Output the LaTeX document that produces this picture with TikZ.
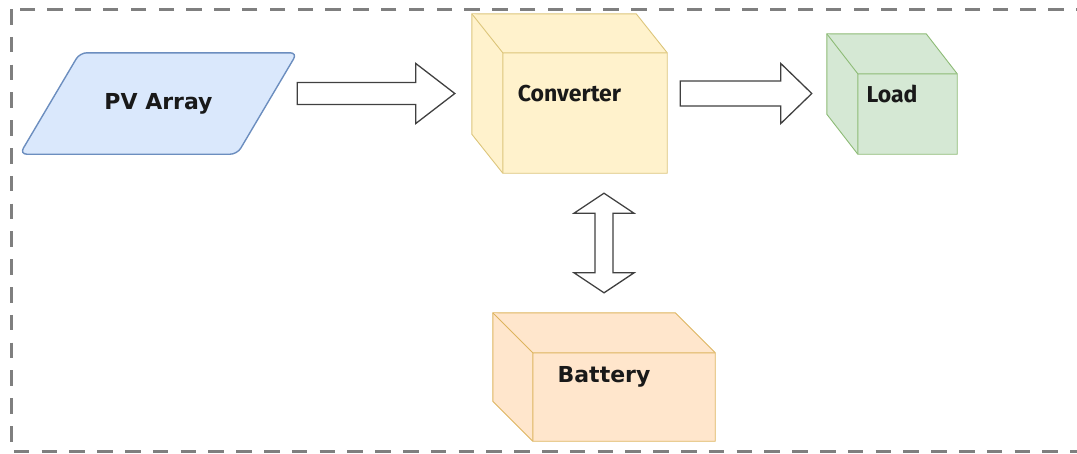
\documentclass[tikz,border=0pt]{standalone}
\usepackage{fontspec}
\setmainfont{DejaVu Sans}
\newfontfamily\narrowfont{Fira Sans}
\usepackage{xcolor}
\definecolor{pvfill}{HTML}{DAE8FC}
\definecolor{pvline}{HTML}{6C8EBF}
\definecolor{cvfill}{HTML}{FFF2CC}
\definecolor{cvline}{HTML}{DCC57A}
\definecolor{ldfill}{HTML}{D5E8D4}
\definecolor{ldline}{HTML}{8DBB76}
\definecolor{btfill}{HTML}{FFE6CC}
\definecolor{btline}{HTML}{DDB45E}
\definecolor{framegray}{HTML}{7F7F7F}
\usetikzlibrary{positioning,calc,backgrounds}

% slanted box round a node: node, slant, colour style
\newcommand{\slantbox}[3]{%
  \begin{scope}[on background layer]
    \draw[#3] ([xshift=#2pt]#1.north west) -- (#1.north east) -- ([xshift=-#2pt]#1.south east)
      -- (#1.south west) -- cycle;
  \end{scope}
}
% box drawn as a cube round a node: node, depth x, depth y, colour style
\newcommand{\cubebox}[4]{%
  \begin{scope}[on background layer]
    \draw[#4] (#1.north west) -- ([xshift=-#2pt]#1.north east) -- ([yshift=-#3pt]#1.north east)
      -- (#1.south east) -- ([xshift=#2pt]#1.south west) -- ([yshift=#3pt]#1.south west) -- cycle;
    \draw[#4] (#1.north west) -- ([xshift=#2pt,yshift=-#3pt]#1.north west) -- ([yshift=-#3pt]#1.north east)
      ([xshift=#2pt,yshift=-#3pt]#1.north west) -- ([xshift=#2pt]#1.south west);
  \end{scope}
}
% hollow block arrow: tail, tip, head length, half shaft
\newcommand{\blockarrow}[4]{%
  \draw[barrow] let \p1=(#1), \p2=(#2) in
    (\x1,\y1+#4pt) -- (\x2-#3pt,\y1+#4pt) -- (\x2-#3pt,\y1+30pt) -- (\x2,\y1)
    -- (\x2-#3pt,\y1-30pt) -- (\x2-#3pt,\y1-#4pt) -- (\x1,\y1-#4pt) -- cycle;
}
% hollow double block arrow, upper tip and lower tip
\newcommand{\dblockarrow}[2]{%
  \draw[barrow] let \p1=(#1), \p2=(#2) in
    (\x1,\y1) -- (\x1+30pt,\y1-20pt) -- (\x1+9pt,\y1-20pt) -- (\x1+9pt,\y2+20pt)
    -- (\x1+30pt,\y2+20pt) -- (\x1,\y2) -- (\x1-30pt,\y2+20pt) -- (\x1-9pt,\y2+20pt)
    -- (\x1-9pt,\y1-20pt) -- (\x1-30pt,\y1-20pt) -- cycle;
}

\begin{document}
\begin{tikzpicture}[
  x=1pt,y=-1pt,
  wide/.style={font=\fontsize{22}{26}\selectfont\bfseries,text=black!90},
  narrow/.style={font=\narrowfont\fontsize{23}{27}\selectfont\bfseries,text=black!90},
  cube/.style={rectangle,inner sep=0pt},
  pvcol/.style={draw=pvline,fill=pvfill,line width=1.4pt,rounded corners=7pt},
  cvcol/.style={draw=cvline,fill=cvfill,line width=0.9pt},
  ldcol/.style={draw=ldline,fill=ldfill,line width=0.9pt},
  btcol/.style={draw=btline,fill=btfill,line width=0.9pt},
  barrow/.style={draw=black!75,fill=white,line width=1.3pt,line join=miter},
  frame/.style={draw=framegray,line width=3pt,dash pattern=on 15.5pt off 12.3pt}
]
  \useasboundingbox (0,0) rectangle (1077,453);

  % === frame ===
  \draw[frame] (11,9) rectangle (1110,451);

  % === blocks ===
  \node[cube,wide,minimum width=277pt,minimum height=101pt] (pv) at (158.5,103.5) {PV Array};
  \node[cube,narrow,minimum width=195pt,minimum height=159pt] (conv) at (569.5,93.5) {Converter};
  \node[cube,narrow,minimum width=130pt,minimum height=120pt] (load) at (892,94) {Load};
  \node[cube,wide,minimum width=222pt,minimum height=128pt] (bat) at (604,377) {Battery};
  \slantbox{pv}{60}{pvcol}
  \cubebox{conv}{31}{39}{cvcol}
  \cubebox{load}{31}{40}{ldcol}
  \cubebox{bat}{40}{40}{btcol}

  % === arrows ===
  \coordinate (a1tail) at (pv.north east |- conv.center);
  \coordinate (a1tip) at ([xshift=-17pt]conv.west);
  \coordinate (a2tail) at ([xshift=13pt]conv.east);
  \coordinate (a2tip) at ([xshift=-15pt]load.west);
  \coordinate (a3top) at ($(conv.south -| bat.north)+(0,20)$);
  \coordinate (a3bot) at ($(bat.north)+(0,-20)$);
  \blockarrow{a1tail}{a1tip}{39}{11}
  \blockarrow{a2tail}{a2tip}{31}{12.5}
  \dblockarrow{a3top}{a3bot}
\end{tikzpicture}
\end{document}
